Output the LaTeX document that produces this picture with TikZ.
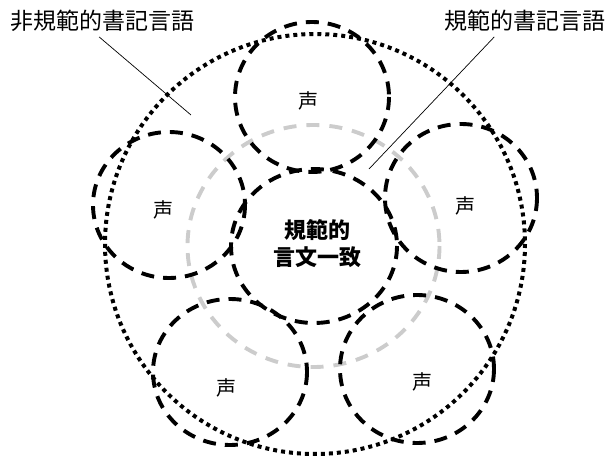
\documentclass[tikz,border=0pt]{standalone}
\usepackage{fontspec}
\newfontfamily\cjk{Noto Sans CJK JP}
\tikzset{
  voicering/.style={line width=3.9pt, dash pattern=on 13pt off 9pt},
  normring/.style={line width=3.9pt, color=black!20, dash pattern=on 13pt off 10pt},
  outerring/.style={line width=4pt, dash pattern=on 4pt off 4pt},
  voicelabel/.style={font=\cjk\fontsize{20}{20}\selectfont},
  areatext/.style={font=\cjk\fontsize{23}{23}\selectfont},
  leader/.style={line width=0.7pt}
}
\begin{document}
\begin{tikzpicture}[x=1pt,y=-1pt]
\useasboundingbox (0,0) rectangle (614,457);
% non-standard written language (dotted)
\draw[outerring] (315,244) circle [radius=210];
% standard written language (gray)
\draw[normring] (313.5,246) ellipse [x radius=126, y radius=121];
% centre: standard genbun itchi
\draw[voicering] (314,246) ellipse [x radius=83, y radius=77];
% the five voices
\draw[voicering] (312,97) ellipse [x radius=77, y radius=75];
\draw[voicering] (169,205) ellipse [x radius=76, y radius=73];
\draw[voicering] (461,198) ellipse [x radius=76, y radius=74];
\draw[voicering] (230,372) ellipse [x radius=77, y radius=73];
\draw[voicering] (417,369) ellipse [x radius=77, y radius=74];
% voice labels
\node[voicelabel] (vtop) at (308,101) {声};
\node[voicelabel] (vleft) at (163,210) {声};
\node[voicelabel] (vright) at (465,206) {声};
\node[voicelabel] (vbl) at (226,388) {声};
\node[voicelabel] (vbr) at (422,382) {声};
% centre label
\node[font=\cjk\fontsize{22}{22}\selectfont, align=center, inner sep=0pt] (core) at (317,244)
  {\bfseries 規範的\\[5pt]\bfseries 言文一致};
% region labels with leaders
\node[areatext, anchor=west, inner sep=0pt] (nonstd) at (10,21) {非規範的書記言語};
\node[areatext, anchor=east, inner sep=0pt] (std) at (606,21) {規範的書記言語};
\coordinate (nonstdtip) at (191,115);
\coordinate (stdtip) at (369,169);
\draw[leader] (nonstd.south) ++(-3,5) -- (nonstdtip);
\draw[leader] (std.south) ++(-31,5) -- (stdtip);
\end{tikzpicture}
\end{document}
